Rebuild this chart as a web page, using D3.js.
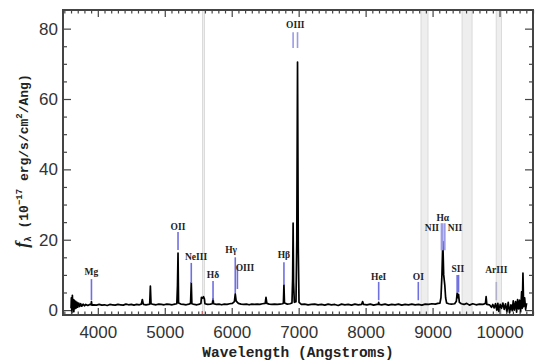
<!DOCTYPE html>
<html><head><meta charset="utf-8">
<script src="https://cdn.jsdelivr.net/npm/d3@7"></script>
<style>body{margin:0;background:#fff}svg{display:block}</style>
</head><body>
<script>
// ---- data ----
const xTicks = [4000,5000,6000,7000,8000,9000,10000];
const yTicks = [0,20,40,60,80];
const specWl = [3600,3605,3612,3620,3628,3635,3642,3650,3660,3670,3680,3690,3700,3715,3730,3745,3760,3780,3800,3820,3850,3880,3900,3905,3912,3940,3980,4020,4060,4100,4140,4180,4220,4260,4300,4340,4380,4420,4460,4500,4540,4580,4620,4650,4665,4680,4720,4760,4775,4785,4795,4830,4870,4910,4950,4990,5030,5070,5110,5150,5180,5190,5198,5206,5240,5280,5320,5360,5385,5396,5405,5440,5480,5520,5540,5548,5565,5578,5592,5600,5640,5680,5710,5721,5730,5770,5810,5850,5890,5930,5970,6010,6040,6053,6066,6085,6100,6140,6180,6220,6260,6300,6340,6380,6420,6460,6500,6512,6525,6560,6600,6640,6680,6720,6760,6772,6780,6788,6830,6870,6900,6910,6917,6924,6935,6960,6972,6983,6994,7005,7040,7090,7140,7190,7240,7290,7340,7390,7440,7490,7540,7590,7640,7690,7740,7790,7840,7890,7940,7955,7970,8020,8070,8120,8170,8188,8195,8202,8240,8290,8340,8390,8440,8490,8540,8590,8640,8690,8740,8790,8840,8890,8940,8990,9040,9080,9110,9125,9132,9140,9153,9166,9183,9195,9210,9240,9280,9330,9355,9367,9378,9388,9400,9430,9470,9510,9550,9600,9650,9700,9750,9790,9800,9810,9850,9880,9900,9920,9940,9960,9975,9990,10010,10030,10050,10070,10090,10110,10130,10150,10170,10190,10205,10220,10240,10255,10270,10285,10300,10315,10330,10340,10350,10360,10375,10390,10405];
const specFlux = [0.5,3.5,-0.8,4.2,0.2,3.0,-0.5,2.8,0.4,2.5,0.6,2.2,0.8,2.0,1.0,1.8,1.1,1.7,1.2,1.6,1.3,1.6,1.5,2.4,1.4,1.5,1.4,1.6,1.4,1.5,1.3,1.6,1.5,1.4,1.6,1.5,1.4,1.7,1.5,1.6,1.4,1.6,1.5,1.7,3.0,1.6,1.5,1.6,1.7,6.8,1.8,1.6,1.5,1.7,1.6,1.5,1.7,1.6,1.5,1.7,1.8,7.0,16.2,2.0,1.7,1.6,1.5,1.7,1.9,7.8,1.8,1.6,1.5,1.7,1.9,3.6,3.4,3.8,3.2,1.8,1.6,1.7,1.8,3.2,1.8,1.6,1.7,1.5,1.7,1.6,1.8,1.9,2.4,4.6,2.6,2.2,1.9,1.7,1.6,1.7,1.5,1.7,1.6,1.7,1.6,1.8,1.9,3.6,1.9,1.7,1.6,1.7,1.6,1.7,1.8,2.0,7.2,2.0,1.7,1.8,2.0,9.0,24.7,8.0,2.2,2.4,20.0,70.5,18.0,2.2,1.6,1.7,1.5,1.6,1.7,1.5,1.6,1.4,1.7,1.5,1.6,1.3,1.7,1.5,1.6,1.4,1.7,1.5,1.6,2.4,1.6,1.5,1.7,1.4,1.6,1.6,2.2,1.6,1.5,1.7,1.4,1.6,1.5,1.7,1.4,1.6,1.5,1.7,1.5,1.6,1.4,1.7,1.6,1.8,1.7,1.9,2.0,3.5,6.5,10.0,19.5,10.0,7.0,3.5,2.0,1.8,1.7,1.8,2.5,4.8,3.5,4.5,2.2,1.8,1.6,1.9,1.4,1.8,1.5,1.7,1.6,1.9,3.8,1.6,1.5,0.8,1.6,0.6,1.8,0.0,1.9,-0.4,1.6,0.5,2.0,0.2,1.8,-0.5,2.2,-0.8,1.5,-0.2,2.6,0.0,2.4,-0.6,3.0,0.3,2.8,-0.5,5.2,0.5,10.5,1.0,3.5,0.2,2.0];
// emission-line markers (wavelength, bottom, top in flux units)
const markerWl  = [3905,5198,5396,5721,6053,6085,6780,6917,6983,8195,8787,9132,9153,9183,9367,9388,9952];
const markerLo  = [2.8,17.1,7.7,2.8,4.8,6.0,7.1,74.5,74.5,2.8,2.8,17.0,17.0,17.0,5.0,5.0,2.8];
const markerHi  = [8.8,22.2,13.4,8.3,15.0,12.5,13.6,79.0,79.0,8.0,8.0,24.7,24.7,24.7,10.0,10.0,8.0];
const labelText = ["Mg","OII","NeIII","Hδ","Hγ","OIII","Hβ","OIII","HeI","OI","NII","Hα","NII","SII","ArIII"];
const labelWl   = [3905,5198,5467,5721,5990,6198,6780,6950,8195,8787,8990,9153,9335,9378,9952];
const labelY    = [10.0,22.8,14.2,9.1,16.2,11.1,14.8,80.2,8.5,8.5,22.5,25.3,22.5,10.8,10.5];
// masked sky regions (wavelength ranges)
const maskLo = [5563,8827,9440,9950];
const maskHi = [5593,8932,9590,10030];

// ---- chart ----
const W=541,H=363, L=63,R=533,T=10,B=315;
const svg=d3.select("body").append("svg").attr("width",W).attr("height",H);
svg.append("rect").attr("width",W).attr("height",H).attr("fill","#fff");
const x=d3.scaleLinear().domain([3480,10500]).range([L,R]);
const y=d3.scaleLinear().domain([-1.4,85.3]).range([B,T]);

// masks
const masks = maskLo.map((lo,i)=>({lo,hi:maskHi[i]}));
svg.append("g").selectAll("rect").data(masks).join("rect")
  .attr("x",d=>x(d.lo)).attr("width",d=>x(d.hi)-x(d.lo))
  .attr("y",T).attr("height",B-T)
  .attr("fill","#eeeeee").attr("stroke","#d4d4d4").attr("stroke-width",0.8);

// spectrum
const spec = specWl.map((w,i)=>[w,specFlux[i]]);
svg.append("path").datum(spec)
  .attr("d",d3.line().x(d=>x(d[0])).y(d=>y(d[1])))
  .attr("fill","none").attr("stroke","#000").attr("stroke-width",1.7).attr("stroke-linejoin","round");

// markers
const markers = markerWl.map((w,i)=>({w,lo:markerLo[i],hi:markerHi[i]}));
svg.append("g").selectAll("line").data(markers).join("line")
  .attr("x1",d=>x(d.w)).attr("x2",d=>x(d.w))
  .attr("y1",d=>y(d.lo)).attr("y2",d=>y(d.hi))
  .attr("stroke",(d,i)=> i===16 ? "#b0b0c8" : ((i===7||i===8||i>=11&&i<=13) ? "#9a9ae6" : "#6f6fe0")).attr("stroke-width",1.6);

// labels
const labels = labelText.map((t,i)=>({t,w:labelWl[i],v:labelY[i]}));
svg.append("g").selectAll("text").data(labels).join("text")
  .attr("x",d=>x(d.w)).attr("y",d=>y(d.v))
  .attr("text-anchor","middle")
  .attr("font-family","Liberation Serif, serif").attr("font-size",9.5).attr("font-weight","bold")
  .attr("fill","#222").text(d=>d.t);

// red marker on axis
svg.append("line").attr("x1",x(5560)).attr("x2",x(5560)).attr("y1",B).attr("y2",B-4)
  .attr("stroke","#e05050").attr("stroke-width",1.2);

// axes
const axCol="#444";
function styleAxis(g){
  g.select(".domain").remove();
  g.selectAll("line").attr("stroke",axCol).attr("stroke-width",1.2);
  g.selectAll("text").attr("fill","#333").attr("font-family","Liberation Sans, Arial, sans-serif").attr("font-size",17);
}
const minorX = d3.range(3500,10501,100).filter(v=>v%1000!==0);
const minorY = d3.range(0,85,5).filter(v=>v%20!==0);
svg.append("g").attr("transform",`translate(0,${B})`)
  .call(d3.axisBottom(x).tickValues(xTicks).tickSize(-7).tickPadding(11).tickFormat(d3.format("d"))).call(styleAxis);
svg.append("g").attr("transform",`translate(0,${B})`)
  .call(d3.axisBottom(x).tickValues(minorX).tickSize(-3.5).tickFormat("")).call(styleAxis);
svg.append("g").attr("transform",`translate(0,${T})`)
  .call(d3.axisTop(x).tickValues(xTicks).tickSize(-7).tickFormat("")).call(styleAxis);
svg.append("g").attr("transform",`translate(0,${T})`)
  .call(d3.axisTop(x).tickValues(minorX).tickSize(-3.5).tickFormat("")).call(styleAxis);
svg.append("g").attr("transform",`translate(${L},0)`)
  .call(d3.axisLeft(y).tickValues(yTicks).tickSize(-8).tickPadding(5)).call(styleAxis);
svg.append("g").attr("transform",`translate(${L},0)`)
  .call(d3.axisLeft(y).tickValues(minorY).tickSize(-4).tickFormat("")).call(styleAxis);
svg.append("g").attr("transform",`translate(${R},0)`)
  .call(d3.axisRight(y).tickValues(yTicks).tickSize(-8).tickFormat("")).call(styleAxis);
svg.append("g").attr("transform",`translate(${R},0)`)
  .call(d3.axisRight(y).tickValues(minorY).tickSize(-4).tickFormat("")).call(styleAxis);

// frame
svg.append("rect").attr("x",L).attr("y",T).attr("width",R-L).attr("height",B-T)
  .attr("fill","none").attr("stroke",axCol).attr("stroke-width",2);

// axis titles
svg.append("text").attr("x",298).attr("y",357).attr("text-anchor","middle")
  .attr("font-family","Liberation Mono, monospace").attr("font-size",14.5).attr("font-weight","bold")
  .attr("fill","#222").text("Wavelength (Angstroms)");
const yt = svg.append("text").attr("transform","translate(28,161) rotate(-90)").attr("text-anchor","middle")
  .attr("font-family","Liberation Mono, monospace").attr("font-size",13).attr("font-weight","bold").attr("fill","#222");
yt.append("tspan").attr("font-family","Liberation Serif, serif").attr("font-style","italic").attr("font-size",18).text("f");
yt.append("tspan").attr("font-size",9).attr("dy",3).text("λ");
yt.append("tspan").attr("dy",-3).text(" (10");
yt.append("tspan").attr("font-size",9).attr("dy",-6).text("−17");
yt.append("tspan").attr("dy",6).text(" erg/s/cm");
yt.append("tspan").attr("font-size",9).attr("dy",-6).text("2");
yt.append("tspan").attr("dy",6).text("/Ang)");
</script>
</body></html>
